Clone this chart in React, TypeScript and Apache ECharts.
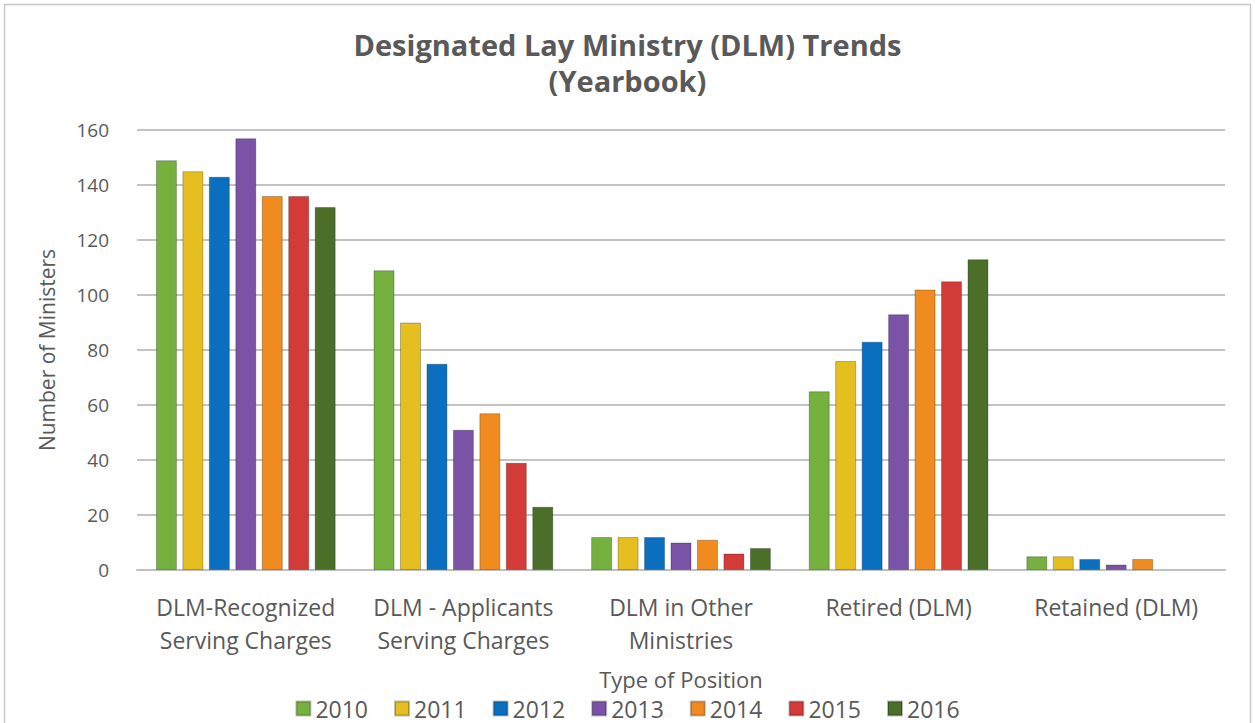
import React, { useEffect, useRef } from "react";
import * as echarts from "echarts";

const categories = [
  "DLM-Recognized\nServing Charges",
  "DLM - Applicants\nServing Charges",
  "DLM in Other\nMinistries",
  "Retired (DLM)",
  "Retained (DLM)",
];
const years = ["2010", "2011", "2012", "2013", "2014", "2015", "2016"];
const v2010 = [149, 109, 12, 65, 5];
const v2011 = [145, 90, 12, 76, 5];
const v2012 = [143, 75, 12, 83, 4];
const v2013 = [157, 51, 10, 93, 2];
const v2014 = [136, 57, 11, 102, 4];
const v2015 = [136, 39, 6, 105, null];
const v2016 = [132, 23, 8, 113, null];
const seriesValues = [v2010, v2011, v2012, v2013, v2014, v2015, v2016];
const colors = ["#76b13f", "#e5be1f", "#0b6fc0", "#7a52a6", "#f08c1f", "#d23b38", "#4b6e29"];

const FONT = "'Open Sans', Lato, sans-serif";
const TXT = "#595959";

export default function App() {
  const ref = useRef<HTMLDivElement>(null);
  useEffect(() => {
    if (!ref.current) return;
    const chart = echarts.init(ref.current, undefined, { renderer: "svg" });
    chart.setOption({
      animation: false,
      backgroundColor: "#ffffff",
      textStyle: { fontFamily: FONT },
      title: {
        text: "Designated Lay Ministry (DLM) Trends\n(Yearbook)",
        left: "center",
        top: 21,
        textStyle: {
          fontFamily: FONT,
          fontSize: 29,
          fontWeight: "bold",
          color: TXT,
          lineHeight: 36,
        },
      },
      graphic: [
        {
          type: "rect",
          shape: { x: 4.5, y: 4.5, width: 1246, height: 730 },
          style: { fill: "none", stroke: "#c8c8c8", lineWidth: 1.5 },
          silent: true,
        },
      ],
      legend: {
        bottom: -2,
        left: "center",
        itemWidth: 14,
        itemHeight: 14,
        itemGap: 26,
        icon: "rect",
        textStyle: { fontFamily: FONT, fontSize: 23, color: TXT },
        data: years,
      },
      grid: { left: 137, right: 30, top: 130, bottom: 153, containLabel: false },
      xAxis: {
        type: "category",
        data: categories,
        name: "Type of Position",
        nameLocation: "middle",
        nameGap: 98,
        nameTextStyle: { fontFamily: FONT, fontSize: 22, color: TXT },
        axisLine: { lineStyle: { color: "#bfbfbf", width: 2 } },
        axisTick: { show: false },
        axisLabel: {
          fontFamily: FONT,
          fontSize: 23,
          color: TXT,
          lineHeight: 33,
          margin: 20,
          interval: 0,
        },
      },
      yAxis: {
        type: "value",
        min: 0,
        max: 160,
        interval: 20,
        name: "Number of Ministers",
        nameLocation: "middle",
        nameGap: 80,
        nameTextStyle: { fontFamily: FONT, fontSize: 21, color: TXT },
        axisLine: { show: false },
        axisTick: { show: false },
        axisLabel: { fontFamily: FONT, fontSize: 19, color: TXT, margin: 28 },
        splitLine: { lineStyle: { color: "#c3c3c3", width: 2 } },
      },
      series: years.map((y, i) => ({
        name: y,
        type: "bar",
        data: seriesValues[i],
        barWidth: 21,
        barGap: "26%",
        itemStyle: {
          color: colors[i],
          borderColor: "rgba(0,0,0,0.25)",
          borderWidth: 1,
        },
      })),
    });
    return () => chart.dispose();
  }, []);
  return <div ref={ref} style={{ width: 1255, height: 723, position: "absolute", left: 0, top: 0 }} />;
}
